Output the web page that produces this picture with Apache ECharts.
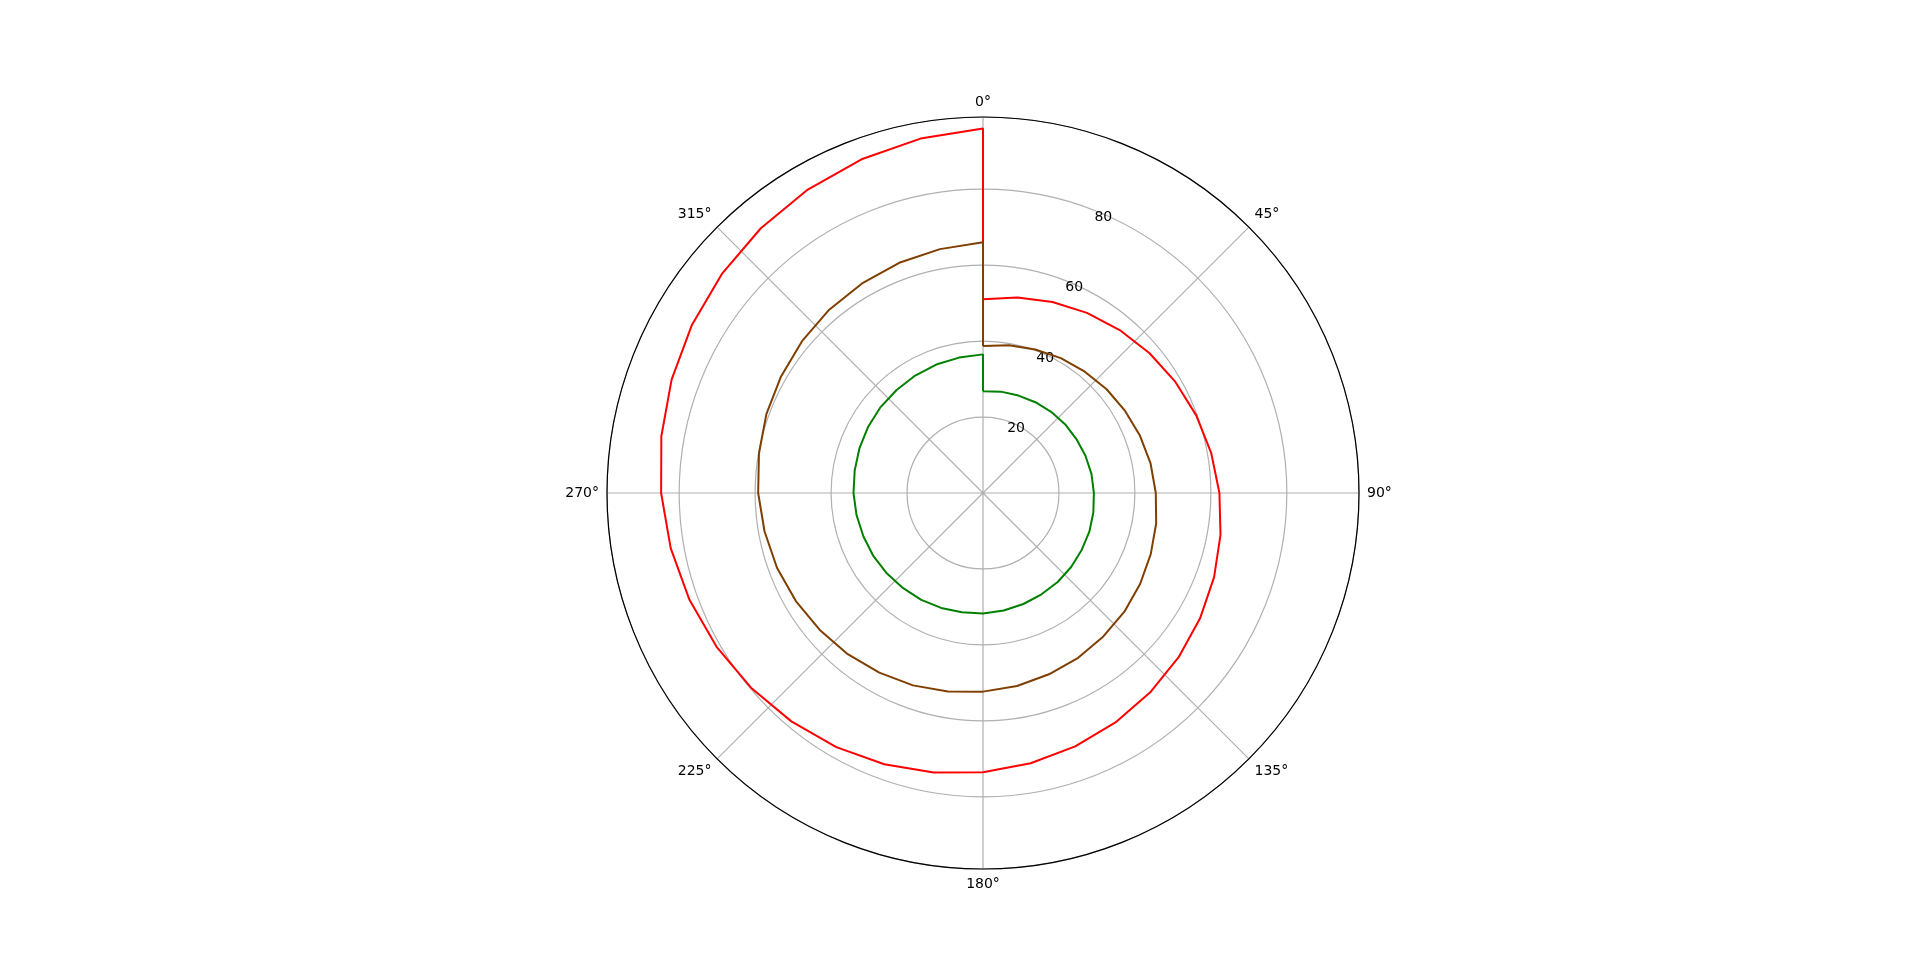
<!DOCTYPE html>
<html><head><meta charset="utf-8">
<script src="https://cdn.jsdelivr.net/npm/echarts@6/dist/echarts.min.js"></script>
<style>html,body{margin:0;padding:0;background:#fff}#c{width:1920px;height:977px}</style>
</head><body><div id="c"></div>
<script>
const angles = [0,10,20,30,40,50,60,70,80,90,100,110,120,130,140,150,160,170,180,190,200,210,220,230,240,250,260,270,280,290,300,310,320,330,340,350,360,360];
const redR = [51,52.25,53.5,54.75,56,57.25,58.5,59.75,61,62.25,63.5,64.75,66,67.25,68.5,69.75,71,72.25,73.5,74.75,76,77.25,78.5,79.75,81,82.25,83.5,84.75,86,87.25,88.5,89.75,91,92.25,93.5,94.75,96,51];
const brownR = [38.7,39.5,40.2,41,41.7,42.5,43.2,44,44.8,45.5,46.3,47,47.8,48.6,49.3,50.1,50.8,51.6,52.3,53.1,53.9,54.6,55.4,56.1,56.9,57.7,58.4,59.2,59.9,60.7,61.4,62.2,63,63.7,64.5,65.2,66,38.7];
const greenR = [26.8,27.1,27.3,27.6,27.9,28.2,28.4,28.7,29,29.2,29.5,29.8,30,30.3,30.6,30.8,31.1,31.4,31.7,31.9,32.2,32.5,32.7,33,33.3,33.5,33.8,34.1,34.3,34.6,34.9,35.2,35.4,35.7,36,36.2,36.5,26.8];
const radialTicks = [20,40,60,80];
const font = {fontFamily:'DejaVu Sans', fontSize:14, color:'#000'};
const pair = r => r.map((v,i)=>[v, angles[i]]);
const chart = echarts.init(document.getElementById('c'));
chart.setOption({
  animation:false,
  polar:[{center:[983,493], radius:376},{center:[983,493], radius:376}],
  angleAxis:[{polarIndex:0, type:'value', min:0, max:360, interval:45, startAngle:90, clockwise:true,
    axisLine:{lineStyle:{color:'#000', width:1.2}}, axisTick:{show:false},
    axisLabel:{...font, margin:8, formatter:v=> v===360?'':v+'°'},
    splitLine:{lineStyle:{color:'#b0b0b0', width:1.2}}},
   {polarIndex:1, type:'value', min:0, max:360, startAngle:67.5, clockwise:true, show:false}],
  radiusAxis:[{polarIndex:0, type:'value', min:0, max:99, interval:20,
    axisLine:{show:false}, axisTick:{show:false}, axisLabel:{show:false},
    splitLine:{lineStyle:{color:'#b0b0b0', width:1.2}}},
   {polarIndex:1, type:'value', min:0, max:99, interval:20,
    axisLine:{show:false}, axisTick:{show:false}, splitLine:{show:false},
    axisLabel:{...font, margin:-14, formatter:v=> radialTicks.includes(v)?String(v):''}}],
  series:[
    {type:'line', coordinateSystem:'polar', polarIndex:0, data:pair(redR), showSymbol:false, lineStyle:{color:'#ff0000', width:2}},
    {type:'line', coordinateSystem:'polar', polarIndex:0, data:pair(brownR), showSymbol:false, lineStyle:{color:'#7f3f00', width:2}},
    {type:'line', coordinateSystem:'polar', polarIndex:0, data:pair(greenR), showSymbol:false, lineStyle:{color:'#008000', width:2}}
  ]
});
</script></body></html>
